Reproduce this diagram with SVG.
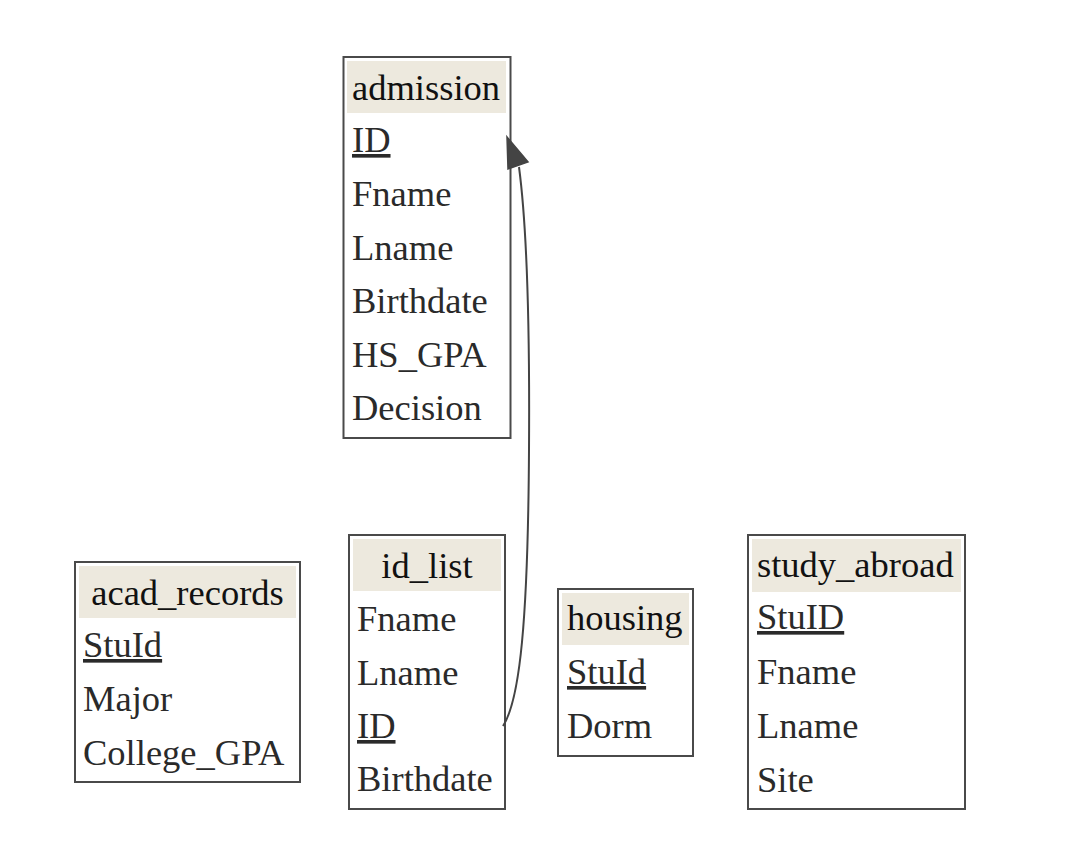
<svg xmlns="http://www.w3.org/2000/svg" width="1080" height="863" viewBox="0 0 1080 863">
<style>
.box{fill:#ffffff;stroke:#4a4a4a;stroke-width:2}
.hdr{fill:#ede9de}
.t{font-family:"Liberation Serif","Times New Roman",serif;font-size:36.5px;fill:#2a2a2a}
.h{font-family:"Liberation Serif","Times New Roman",serif;font-size:36.5px;fill:#111111}
.u{text-decoration:underline}
.edge{fill:none;stroke:#444444;stroke-width:2}
</style>
<rect width="1080" height="863" fill="#ffffff"/>
<g id="admission">
<rect class="box" x="343.5" y="57" width="167" height="381"/>
<rect class="hdr" x="347" y="61" width="159" height="52"/>
<text class="h" x="352" y="100">admission</text>
<text class="t u" x="352" y="152">ID</text>
<text class="t" x="352" y="206">Fname</text>
<text class="t" x="352" y="260">Lname</text>
<text class="t" x="352" y="313">Birthdate</text>
<text class="t" x="352" y="367">HS_GPA</text>
<text class="t" x="352" y="420">Decision</text>
</g>
<g id="acad_records">
<rect class="box" x="75" y="562" width="225" height="220"/>
<rect class="hdr" x="79" y="566" width="217" height="52"/>
<text class="h" x="187.5" y="605" text-anchor="middle">acad_records</text>
<text class="t u" x="83" y="657">StuId</text>
<text class="t" x="83" y="711">Major</text>
<text class="t" x="83" y="765">College_GPA</text>
</g>
<g id="id_list">
<rect class="box" x="349" y="535" width="156" height="274"/>
<rect class="hdr" x="353" y="539" width="148" height="52"/>
<text class="h" x="427" y="578" text-anchor="middle">id_list</text>
<text class="t" x="357" y="631">Fname</text>
<text class="t" x="357" y="685">Lname</text>
<text class="t u" x="357" y="738">ID</text>
<text class="t" x="357" y="791">Birthdate</text>
</g>
<g id="housing">
<rect class="box" x="558" y="589" width="135" height="167"/>
<rect class="hdr" x="562" y="593" width="127" height="52"/>
<text class="h" x="567" y="630">housing</text>
<text class="t u" x="567" y="684">StuId</text>
<text class="t" x="567" y="738">Dorm</text>
</g>
<g id="study_abroad">
<rect class="box" x="748" y="535" width="217" height="274"/>
<rect class="hdr" x="752" y="539" width="209" height="53"/>
<text class="h" x="757" y="577">study_abroad</text>
<text class="t u" x="757" y="629">StuID</text>
<text class="t" x="757" y="684">Fname</text>
<text class="t" x="757" y="738">Lname</text>
<text class="t" x="757" y="792">Site</text>
</g>
<g id="connectors">
<path class="edge" d="M503,726 C520,700 528,620 529,450 C530,300 526,220 519,167"/>
<polygon points="507,137 528,162 508,169" fill="#444444" stroke="#444444" stroke-width="1.5"/>
</g>
</svg>
